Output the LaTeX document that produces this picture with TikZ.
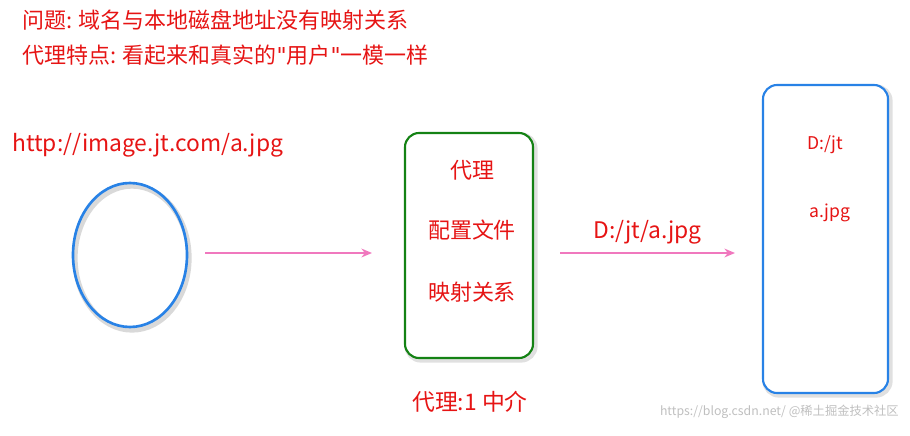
\documentclass[tikz,border=0pt]{standalone}
\usepackage{fontspec}
\setmainfont{Noto Sans CJK SC}
\newfontfamily\qf{DejaVu Sans}
\usetikzlibrary{arrows.meta}
\definecolor{tred}{RGB}{230,20,20}
\definecolor{tblue}{RGB}{40,130,230}
\definecolor{tgreen}{RGB}{20,130,20}
\definecolor{tpink}{RGB}{240,120,190}
\tikzset{
  lbl/.style={text=tred,font=\fontsize{12.5}{14}\selectfont,inner sep=0},
  big/.style={text=tred,font=\fontsize{13}{15}\selectfont,inner sep=0},
  small/.style={text=tred,font=\fontsize{10}{12}\selectfont,inner sep=0},
  arr/.style={draw=tpink,line width=1pt,-{Stealth[length=6pt,width=5pt]}},
}
\begin{document}
\begin{tikzpicture}[x=0.02cm,y=-0.02cm]
\useasboundingbox (0,0) rectangle (910,436);
\node[lbl,anchor=west] (t1) at (22,20) {问题: 域名与本地磁盘地址没有映射关系};
\node[lbl,anchor=west] (t2) at (22,55) {代理特点: 看起来和真实的{\qf\symbol{34}}用户{\qf\symbol{34}}一模一样};
\node[big,anchor=west] (url) at (12,145) {http://image.jt.com/a.jpg};
\draw[black!15,line width=3pt] (132,258) ellipse [x radius=57,y radius=72];
\draw[tblue,line width=1.5pt] (130,255) ellipse [x radius=57,y radius=72];
\coordinate (e) at (205,253);
\draw[black!12,line width=3pt,rounded corners=8] (407,135) rectangle (535,360);
\node[draw=tgreen,line width=1.2pt,rounded corners=8,minimum width=128*0.02cm,minimum height=225*0.02cm,fill=white] (proxy) at (469,245.5) {};
\node[lbl] (p1) at (472,170) {代理};
\node[lbl] (p2) at (472,230) {配置文件};
\node[lbl] (p3) at (472,292) {映射关系};
\node[big] (p4) at (470,402) {代理:1 中介};
\draw[black!12,line width=3pt,rounded corners=8] (765,87) rectangle (890,395);
\node[draw=tblue,line width=1.2pt,rounded corners=8,minimum width=125*0.02cm,minimum height=308*0.02cm,fill=white] (disk) at (825.5,239) {};
\node[small] (d1) at (825,145) {D:/jt};
\node[small] (d2) at (830,213) {a.jpg};
\draw[arr] (e) -- (372,253);
\draw[arr] (560,253) -- (735,253) node[midway,above=12pt,big,anchor=center] (lab) {D:/jt/a.jpg};
\node[text=black!25,font=\fontsize{7}{9}\selectfont,anchor=east] (wm) at (905,412) {https://blog.csdn.net/ @稀土掘金技术社区};
\end{tikzpicture}
\end{document}
